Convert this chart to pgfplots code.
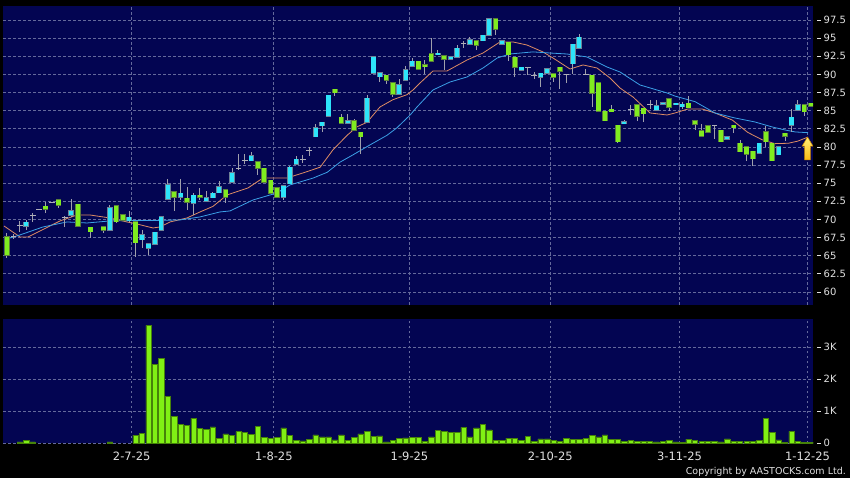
\documentclass[border=0pt]{standalone}
\usepackage{pgfplots}
\pgfplotsset{compat=1.18}
\usepackage{pgfplotstable}
\usepackage{fontspec}
\setmainfont{DejaVu Sans}
\definecolor{panel}{RGB}{3,5,82}
\definecolor{gridc}{RGB}{100,105,155}
\definecolor{upfill}{RGB}{45,228,250}
\definecolor{upedge}{RGB}{110,130,150}
\definecolor{dnfill}{RGB}{128,236,32}
\definecolor{dnedge}{RGB}{90,125,60}
\definecolor{wickc}{RGB}{160,160,172}
\definecolor{dojic}{RGB}{175,175,185}
\definecolor{maorange}{RGB}{222,140,100}
\definecolor{mablue}{RGB}{60,160,230}
\definecolor{volfill}{RGB}{128,240,20}
\definecolor{voledge}{RGB}{70,130,10}
\definecolor{labelc}{RGB}{225,225,225}
\newcommand\tdash{\rule[3.3pt]{4pt}{0.7pt}\hspace{2.5pt}}

% k open high low close
\pgfplotstableread{
k o h l c
3 69.1 69.9 68.6 69.6
10 70.6 72.8 70.3 71.2
16 68.5 72.0 68.5 71.6
19 69.8 71.2 69.6 70.3
21 67.2 68.5 66.1 67.9
22 66.0 66.6 65.1 66.6
23 66.6 68.3 66.6 68.2
24 68.5 70.5 68.5 70.4
25 72.8 75.6 72.8 74.8
27 73.05 75.6 72.7 73.6
29 72.2 73.6 70.6 73.3
31 72.5 73.9 72.5 73.0
32 73.0 73.8 73.0 73.6
33 73.7 75.3 73.7 74.5
35 75.1 77.1 75.1 76.4
38 78.1 79.26 78.1 78.75
43 73.05 74.65 72.7 74.65
44 74.9 77.3 74.9 77.2
45 77.6 78.7 77.6 78.3
48 81.4 83.1 81.4 82.65
49 82.9 83.4 82.1 83.4
50 84.2 87.1 84.2 87.1
53 83.3 84.6 83.3 83.6
56 83.4 87.2 83.4 86.7
57 90.2 92.4 90.2 92.4
58 89.7 90.2 88.9 90.2
61 87.3 89.3 87.3 88.6
62 89.2 91.1 89.2 90.6
63 91.1 92.2 91.1 91.8
67 92.7 93.3 92.7 92.9
69 92.1 92.4 92.1 92.4
70 92.4 94.0 92.4 93.6
72 94.15 95.2 94.15 94.75
74 94.65 95.4 94.65 95.4
75 95.4 97.7 95.4 97.7
77 94.2 94.65 94.2 94.65
80 90.6 91.0 90.6 91.0
83 89.6 90.15 88.2 90.15
84 90.15 90.8 90.15 90.8
88 91.5 94.15 90.1 94.15
89 93.6 95.5 93.6 95.1
96 83.2 83.7 83.2 83.5
101 85.1 86.5 85.1 85.7
102 85.9 86.1 85.9 86.1
104 85.8 86.0 85.8 86.0
105 85.55 86.2 85.2 85.85
112 81.1 81.4 81.1 81.4
117 79.1 80.5 79.1 80.5
120 78.9 80.0 78.9 80.0
122 83.0 85.2 82.0 84.1
123 85.1 86.5 85.1 85.8
}\uptab

\pgfplotstableread{
k o h l c
0 67.6 68.1 64.7 65.1
6 71.8 72.4 70.9 71.4
8 72.7 72.7 71.6 72.0
11 72.1 72.1 69.0 69.1
13 68.9 68.9 67.4 68.3
15 69.0 69.0 68.1 68.5
17 71.9 71.9 69.5 69.7
18 70.6 70.6 69.9 69.9
20 69.7 69.7 64.8 66.8
26 73.8 73.8 71.2 73.1
28 72.9 74.5 71.3 72.4
30 73.3 74.3 72.7 73.1
34 74.1 74.1 72.3 73.1
39 77.97 77.97 76.1 77.05
40 77.05 77.05 75.1 75.1
41 75.4 75.4 73.6 73.6
42 74.4 74.4 73.05 73.05
51 87.95 87.95 87.05 87.5
52 84.1 84.6 83.3 83.3
54 83.6 83.9 82.3 82.3
55 82.0 82.0 79.0 81.4
59 89.9 89.9 88.7 89.2
60 88.85 88.85 86.9 87.25
64 91.8 91.8 90.75 90.75
65 91.3 92.0 90.05 91.1
66 92.8 95.0 91.8 91.8
68 92.6 92.6 90.6 92.1
73 94.65 94.65 93.4 94.05
76 97.7 97.7 95.4 96.2
78 94.4 94.4 91.9 92.7
79 92.35 92.35 89.6 91.0
85 90.05 90.05 88.9 89.6
86 91.0 91.0 88.0 90.4
91 89.9 89.9 85.55 87.4
92 88.8 88.8 84.95 84.95
93 84.9 84.9 83.6 83.6
94 85.2 85.8 84.85 84.85
95 83.0 83.0 80.5 80.7
98 85.8 85.8 83.6 84.2
99 85.3 85.3 83.5 84.6
103 86.6 86.6 84.9 85.5
106 86.0 87.0 85.4 85.4
107 83.6 83.6 82.3 83.1
108 82.2 83.2 81.5 81.5
109 82.9 82.9 82.0 82.0
111 82.3 82.3 80.7 80.7
113 83.0 83.0 81.9 82.65
114 80.5 80.9 79.35 79.35
115 80.0 80.0 78.1 79.0
116 79.4 79.4 77.4 78.4
118 82.05 82.9 80.0 80.7
119 80.5 80.5 78.1 78.1
121 81.9 81.9 80.8 81.5
124 85.8 85.8 84.3 84.85
125 86.0 86.0 85.6 85.6
}\dntab

\pgfplotstableread{
k v h l
1 67.6 68.0 67.3
2 69.1 69.8 68.2
4 70.5 70.9 69.6
5 71.4 71.4 71.4
7 72.3 72.3 72.3
9 70.3 70.5 69.0
36 77.05 79.0 76.8
37 78.1 79.0 77.6
46 78.3 78.9 77.8
47 79.5 80.0 78.7
71 94.2 94.6 93.6
81 91.0 91.0 89.9
82 89.9 90.35 89.4
87 90.05 90.05 88.8
90 90.05 90.7 89.9
97 85.1 85.8 84.4
100 85.8 86.5 85.2
110 82.9 82.9 81.05
}\dojitab

% volume in thousands
\pgfplotstableread{
k v
2 0.03
3 0.07
4 0.03
16 0.03
20 0.24
21 0.29
22 3.69
23 2.47
24 2.65
25 1.47
26 0.83
27 0.59
28 0.54
29 0.77
30 0.46
31 0.42
32 0.5
33 0.13
34 0.28
35 0.23
36 0.35
37 0.33
38 0.27
39 0.51
40 0.17
41 0.15
42 0.18
43 0.47
44 0.23
45 0.08
46 0.06
47 0.1
48 0.25
49 0.19
50 0.19
51 0.09
52 0.25
53 0.07
54 0.17
55 0.28
56 0.37
57 0.2
58 0.22
59 0.03
60 0.07
61 0.13
62 0.16
63 0.17
64 0.17
65 0.04
66 0.19
67 0.4
68 0.35
69 0.34
70 0.34
71 0.49
72 0.19
73 0.47
74 0.58
75 0.41
76 0.08
77 0.08
78 0.15
79 0.15
80 0.08
81 0.21
82 0.04
83 0.125
84 0.125
85 0.08
86 0.04
87 0.135
88 0.1
89 0.1
90 0.135
91 0.24
92 0.19
93 0.25
94 0.1
95 0.1
96 0.05
97 0.07
98 0.05
99 0.04
100 0.05
101 0.03
102 0.05
103 0.08
104 0.03
105 0.02
106 0.115
107 0.07
108 0.05
109 0.05
110 0.05
111 0.03
112 0.125
113 0.04
114 0.04
115 0.05
116 0.05
117 0.08
118 0.78
119 0.34
120 0.09
121 0.02
122 0.36
123 0.05
124 0.02
125 0.02
}\voltab

\pgfplotsset{
  chartpanel/.style={
    scale only axis, width=810pt, xmin=-0.62, xmax=125.35,
    axis background/.style={fill=panel},
    axis line style={draw=none},
    xtick={19.4,41.5,62.6,84.5,104.6,124.5},
    xmajorgrids, ymajorgrids,
    grid style={gridc, line width=0.7pt, dash pattern=on 2.5pt off 2.5pt},
    yticklabel pos=right,
    major tick length=0pt,
    yticklabel style={anchor=west, inner sep=0pt, xshift=4pt, text=labelc, font=\fontsize{10}{10}\selectfont},
    /pgf/number format/assume math mode=true,
  },
  errseg/.style 2 args={draw=none, mark=none, forget plot,
    error bars/.cd, y dir=both, y explicit, error mark=none,
    error bar style={draw=#1, draw opacity=1, solid, #2}},
}

\begin{document}
\begin{tikzpicture}
\fill[black] (0,0) rectangle (850pt,478pt);

% ---------------- price panel ----------------
\begin{axis}[chartpanel, at={(3pt,173pt)}, anchor=south west, height=299pt,
  ymin=58.2, ymax=99.43, ytick={60,62.5,...,97.5}, xticklabels={},
  yticklabel={\tdash\pgfmathprintnumber{\tick}}]

\addplot[maorange, line width=0.8pt, forget plot] coordinates {
(-0.47,69.1) (2.02,67.58) (3.27,67.58) (8.24,69.79) (10.89,70.61) (12.91,70.61)
(16.02,70.2) (18.66,69.65) (20.22,69.37) (22.71,68.82) (23.79,68.96) (25.35,69.65)
(27.99,70.2) (30.02,71.03) (32.04,71.8) (34.21,73.37) (37.48,74.34) (39.81,75.71)
(41.99,75.71) (43.5,75.7) (46.0,76.4) (48.7,77.2) (50.7,79.6) (52.9,81.6) (54.4,82.75)
(56.0,83.4) (58.0,85.5) (60.0,86.5) (62.2,87.2) (63.14,87.85) (64.23,88.81)
(66.25,90.47) (68.43,90.47) (71.54,91.98) (74.03,92.95) (76.67,94.47) (78.69,94.47)
(80.87,94.05) (83.36,93.09) (84.91,92.26) (87.56,90.74) (89.58,91.3) (91.76,90.88)
(93.78,89.5) (95.33,88.12) (97.36,86.88) (100.0,84.68) (102.64,84.4) (103.9,84.68)
(105.9,85.23) (108.1,85.23) (110.1,84.68) (112.8,83.7) (115.2,82.0) (117.4,81.0)
(119.4,80.45) (121.5,80.5) (123.0,80.8) (124.4,81.3)
};
\addplot[mablue, line width=0.8pt, forget plot] coordinates {
(-0.47,67.17) (2.02,67.86) (5.6,68.96) (9.33,69.65) (12.44,69.51) (16.02,69.79)
(19.6,69.85) (22.71,69.85) (26.9,69.93) (30.02,70.34) (33.13,71.03) (34.68,71.17)
(38.26,72.68) (41.99,73.65) (44.0,74.75) (47.6,75.7) (49.8,76.5) (51.8,77.9)
(53.8,78.9) (56.5,80.3) (59.1,81.6) (60.6,82.6) (62.7,84.4) (63.76,85.5) (66.25,87.85)
(68.9,88.95) (71.54,89.64) (74.03,90.88) (76.24,92.26) (78.2,92.81) (81.8,93.1)
(84.4,92.95) (87.09,92.81) (90.2,92.4) (93.31,91.02) (95.33,90.33) (98.44,88.54)
(102.64,87.44) (103.9,87.0) (107.0,86.24) (110.1,84.68) (113.2,83.99) (116.3,83.44)
(119.0,82.75) (121.0,82.33) (122.6,82.06) (124.6,81.96)
};

% wicks
\addplot[errseg={wickc}{line width=1pt}] table[x=k, y expr={(\thisrow{h}+\thisrow{l})/2}, y error expr={(\thisrow{h}-\thisrow{l})/2}] {\uptab};
\addplot[errseg={wickc}{line width=1pt}] table[x=k, y expr={(\thisrow{h}+\thisrow{l})/2}, y error expr={(\thisrow{h}-\thisrow{l})/2}] {\dntab};
\addplot[errseg={wickc}{line width=1pt}] table[x=k, y expr={(\thisrow{h}+\thisrow{l})/2}, y error expr={(\thisrow{h}-\thisrow{l})/2}] {\dojitab};
% bodies
\addplot[errseg={upedge}{line width=5.6pt, shorten <=-0.6pt, shorten >=-0.6pt}] table[x=k, y expr={(\thisrow{o}+\thisrow{c})/2}, y error expr={abs(\thisrow{c}-\thisrow{o})/2}] {\uptab};
\addplot[errseg={upfill}{line width=4.2pt}] table[x=k, y expr={(\thisrow{o}+\thisrow{c})/2}, y error expr={abs(\thisrow{c}-\thisrow{o})/2}] {\uptab};
\addplot[errseg={dnedge}{line width=5.6pt, shorten <=-0.6pt, shorten >=-0.6pt}] table[x=k, y expr={(\thisrow{o}+\thisrow{c})/2}, y error expr={abs(\thisrow{c}-\thisrow{o})/2}] {\dntab};
\addplot[errseg={dnfill}{line width=4.2pt}] table[x=k, y expr={(\thisrow{o}+\thisrow{c})/2}, y error expr={abs(\thisrow{c}-\thisrow{o})/2}] {\dntab};
% doji
\addplot[only marks, mark=-, mark size=2.8pt, mark options={dojic, line width=1pt}, forget plot] table[x=k, y=v] {\dojitab};

% arrow annotation
\draw[top color={rgb,255:red,255;green,240;blue,120}, bottom color={rgb,255:red,250;green,185;blue,20},
      draw={rgb,255:red,205;green,135;blue,0}, line width=0.5pt]
  (axis cs:124.5,81.37) -- (axis cs:125.35,80.1) -- (axis cs:124.95,80.1) -- (axis cs:124.95,78.2)
  -- (axis cs:124.05,78.2) -- (axis cs:124.05,80.1) -- (axis cs:123.65,80.1) -- cycle;
\end{axis}

% ---------------- volume panel ----------------
\begin{axis}[chartpanel, at={(3pt,34.5pt)}, anchor=south west, height=124.5pt,
  ymin=-0.02, ymax=3.89, ytick={0,1,2,3},
  yticklabels={{\tdash 0},{\tdash 1K},{\tdash 2K},{\tdash 3K}},
  xticklabels={2-7-25,1-8-25,1-9-25,2-10-25,3-11-25,1-12-25},
  xticklabel style={anchor=base, inner sep=0pt, yshift=-17.5pt, text=labelc, font=\fontsize{11.5}{11.5}\selectfont}]
\addplot[ybar, bar width=5.4pt, fill=volfill, draw=voledge, line width=0.5pt] table[x=k, y=v] {\voltab};
\end{axis}

\node[anchor=base east, inner sep=0pt, text=labelc, font=\fontsize{9.5}{9.5}\selectfont] at (846pt,3.5pt) {Copyright by AASTOCKS.com Ltd.};

\pgfresetboundingbox
\path[use as bounding box] (0,0) rectangle (850pt,478pt);
\end{tikzpicture}
\end{document}
